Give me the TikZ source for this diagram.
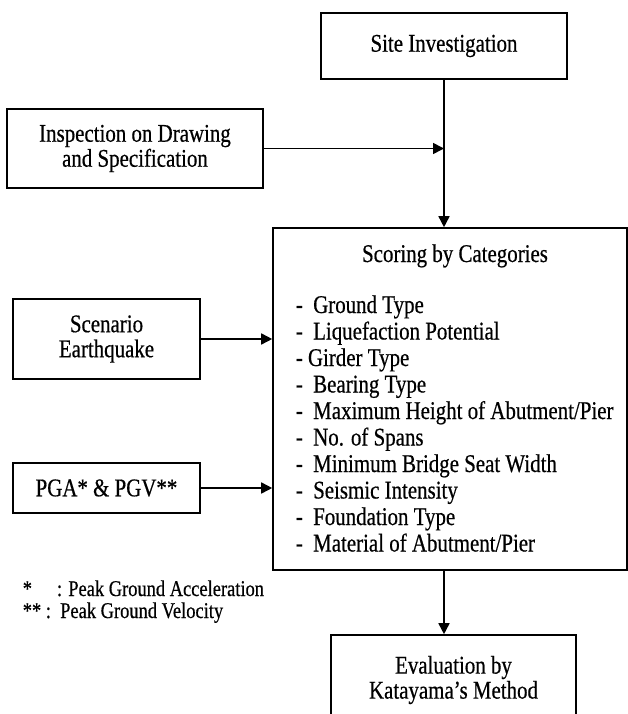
\documentclass[tikz,border=0pt]{standalone}
\usepackage{fontspec}
\setmainfont{Liberation Serif}[FakeStretch = 0.82, FakeBold = 0.5]
\usetikzlibrary{arrows.meta}

\begin{document}
\begin{tikzpicture}[x = 1pt, y = 1pt, line width = 1.6pt,
	>={Triangle[length = 11pt, width = 11pt]},
	box/.style = {draw, align = center, inner sep = 0pt},
	txt/.style = {font = \fontsize{25.5}{25}\selectfont},
	note/.style = {font = \fontsize{22.5}{22}\selectfont, inner sep = 0pt, anchor = base west}]
	\clip (0,0) rectangle (628,-714);
	% input boxes
	\node [box, txt, minimum width = 246pt, minimum height = 66pt] (site) at (444,-46) {Site Investigation};
	\node [box, txt, minimum width = 256pt, minimum height = 79pt] (insp) at (135,-148.5) {Inspection on Drawing\\and Specification};
	\node [box, txt, minimum width = 187pt, minimum height = 80pt] (scen) at (106.5,-339) {Scenario\\Earthquake};
	\node [box, txt, minimum width = 187pt, minimum height = 50pt] (pga) at (106.5,-488) {PGA* \& PGV**};
	% scoring box
	\node [box, minimum width = 354pt, minimum height = 342pt] (main) at (450,-399) {};
	\node [txt, inner sep = 0pt, anchor = base] (title) at (455,-262) {Scoring by Categories};
	\foreach \t [count = \i from 0] in {-~ Ground Type, -~ Liquefaction Potential, - Girder Type,
		-~ Bearing Type, -~ Maximum Height of Abutment/Pier, -~ No. of Spans,
		-~ Minimum Bridge Seat Width, -~ Seismic Intensity, -~ Foundation Type,
		-~ Material of Abutment/Pier}{
	\node [txt, inner sep = 0pt, anchor = base west] (item\i) at (295,-313-26.5*\i) {\t};
	}
	\node [box, txt, minimum width = 245pt, minimum height = 90pt] (eval) at (453.5,-680) {Evaluation by\\Katayama’s Method};
	% connectors
	\draw [->] (site) -- (site.south |- main.north);
	\draw [->] (insp) -- (site.south |- insp.east);
	\draw [->] (scen) -- (scen -| main.west);
	\draw [->] (pga) -- (pga -| main.west);
	\draw [->] (site.south |- main.south) -- (site.south |- eval.north);
	% footnotes
	\node [note] (fn1) at (22,-596) {*\hspace{25pt}: Peak Ground Acceleration};
	\node [note] (fn2) at (22,-618) {**\ :\ \ Peak Ground Velocity};
\end{tikzpicture}
\end{document}
